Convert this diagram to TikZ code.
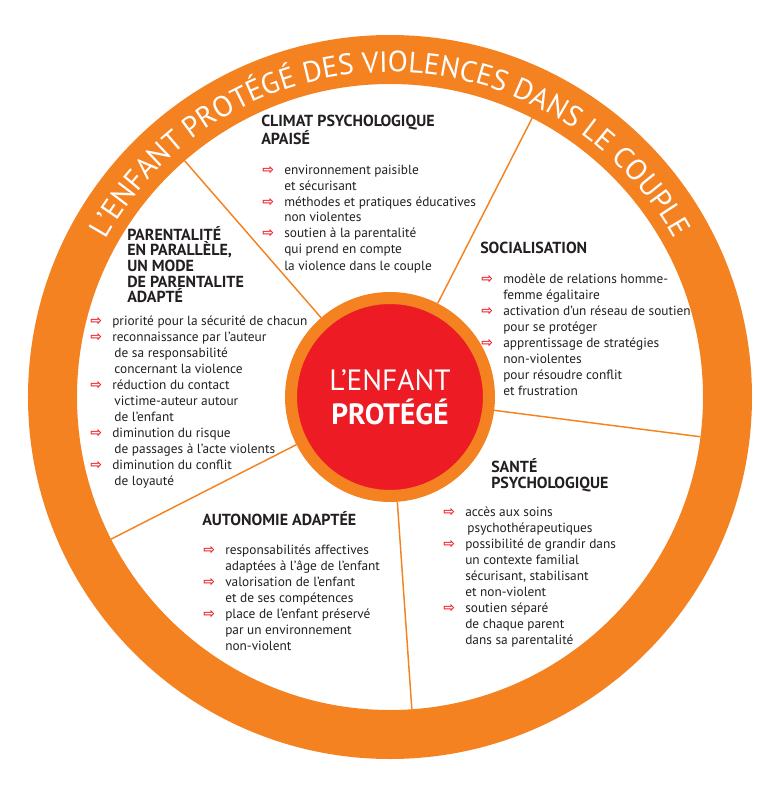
\documentclass[tikz,border=0pt]{standalone}
\usepackage{fontspec}
\setmainfont{PT Sans}
\newfontfamily\arrowfont{DejaVu Sans}
\usetikzlibrary{positioning, decorations.text}
\definecolor{ringorange}{HTML}{F58220}
\definecolor{heartred}{HTML}{ED1C24}
\definecolor{inkgray}{HTML}{231F20}
\newcommand{\itm}{\makebox[16.5pt][l]{\textcolor{heartred}{\arrowfont\bfseries\fontsize{10.5}{10}\selectfont ⇨}}}
\newcommand{\cont}{\hspace*{16.5pt}}
\tikzset{
    blocktitle/.style={anchor=base west, inner sep=0pt, align=left, text=inkgray, font=\bfseries\fontsize{12}{11.8}\selectfont},
    blocklist/.style={anchor=base west, inner sep=0pt, align=left, text=inkgray, font=\fontsize{10}{12}\selectfont},
    spoke/.style={draw=ringorange, line width=1.1pt}
}

\begin{document}
\begin{tikzpicture}[x=0.75pt, y=0.75pt]
    \useasboundingbox (-390,-392) rectangle (390,397);
    % Outer ring and its text
    \fill[ringorange, even odd rule] (0,0) circle (362) (0,0) circle (313);
    \path[decorate, decoration={text along path, text align=center, text color=white,
        text={|\fontsize{22pt}{22pt}\selectfont|L’ENFANT PROTÉGÉ DES VIOLENCES DANS LE COUPLE}}]
        (180:325) arc[start angle=180, end angle=0, radius=325];

    % Define nodes
    \node[circle, fill=heartred, draw=ringorange, line width=9pt, minimum size=148.5pt, inner sep=0pt,
        align=center, text=white, font=\fontsize{22}{25.5}\selectfont] (enfant) at (0,0) {L’ENFANT\\\textbf{PROTÉGÉ}};

    \coordinate (rimA) at (131:313);
    \coordinate (rimB) at (63:313);
    \coordinate (rimC) at (-7.3:313);
    \coordinate (rimD) at (-86:313);
    \coordinate (rimE) at (207:313);

    % anchors sit on the last line of each block
    \node[blocktitle] (climat) at (-129,252) {CLIMAT PSYCHOLOGIQUE\\APAISÉ};
    \node[blocklist] (climatlist) at (-128,127) {\itm environnement paisible\\
        \cont et sécurisant\\
        \itm méthodes et pratiques éducatives\\
        \cont non violentes\\
        \itm soutien à la parentalité\\
        \cont qui prend en compte\\
        \cont la violence dans le couple};

    \node[blocktitle] (social) at (90,143) {SOCIALISATION};
    \node[blocklist] (sociallist) at (91,2) {\itm modèle de relations homme-\\
        \cont femme égalitaire\\
        \itm activation d’un réseau de soutien\\
        \cont pour se protéger\\
        \itm apprentissage de stratégies\\
        \cont non-violentes\\
        \cont pour résoudre conflit\\
        \cont et frustration};

    \node[blocktitle] (sante) at (101,-91) {SANTÉ\\PSYCHOLOGIQUE};
    \node[blocklist] (santelist) at (53,-247) {\itm accès aux soins\\
        \cont\,psychothérapeutiques\\
        \itm possibilité de grandir dans\\
        \cont un contexte familial\\
        \cont sécurisant, stabilisant\\
        \cont et non-violent\\
        \itm soutien séparé\\
        \cont de chaque parent\\
        \cont dans sa parentalité};

    \node[blocktitle] (autonomie) at (-188,-128) {AUTONOMIE ADAPTÉE};
    \node[blocklist] (autonomielist) at (-187,-253) {\itm responsabilités affectives\\
        \cont adaptées à l’âge de l’enfant\\
        \itm valorisation de l’enfant\\
        \cont et de ses compétences\\
        \itm place de l’enfant préservé\\
        \cont par un environnement\\
        \cont non-violent};

    \node[blocktitle] (parent) at (-263,94) {PARENTALITÉ\\EN PARALLÈLE,\\UN MODE\\DE PARENTALITE\\ADAPTÉ};
    \node[blocklist] (parentlist) at (-300,-88) {\itm priorité pour la sécurité de chacun\\
        \itm reconnaissance par l’auteur\\
        \cont\,de sa responsabilité\\
        \cont\,concernant la violence\\
        \itm réduction du contact\\
        \cont\,victime-auteur autour\\
        \cont\,de l’enfant\\
        \itm diminution du risque\\
        \cont\,de passages à l’acte violents\\
        \itm diminution du conflit\\
        \cont\,de loyauté};

    % Spokes between the sectors
    \draw[spoke] (enfant) -- (rimA);
    \draw[spoke] (enfant) -- (rimB);
    \draw[spoke] (enfant) -- (rimC);
    \draw[spoke] (enfant) -- (rimD);
    \draw[spoke] (enfant) -- (rimE);
\end{tikzpicture}
\end{document}
